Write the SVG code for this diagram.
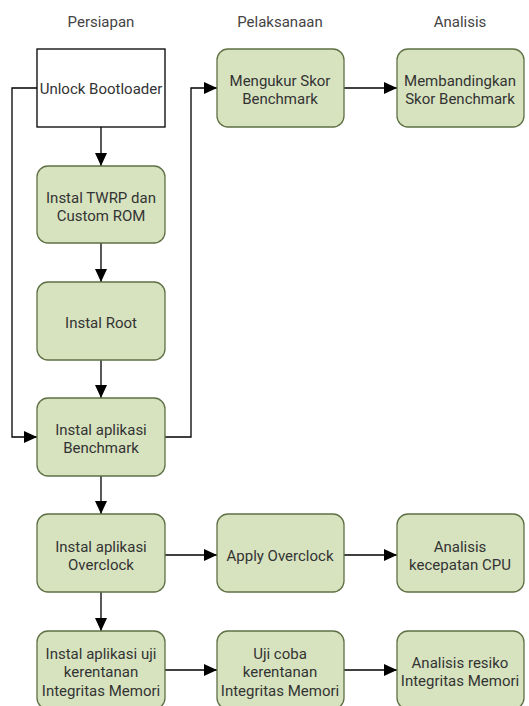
<svg xmlns="http://www.w3.org/2000/svg" width="529" height="706" viewBox="0 0 529 706">
<defs>
<marker id="ah" markerWidth="14" markerHeight="14" refX="13" refY="6" orient="auto" markerUnits="userSpaceOnUse">
<path d="M0,0 L13,6 L0,12 Z" fill="#000"/>
</marker>
<style>
.box{fill:#d7e3bf;stroke:#5f7045;stroke-width:1.3}
.plain{fill:#fff;stroke:#000;stroke-width:1.3}
text{font-family:Roboto,"Liberation Sans",sans-serif;font-size:15px;fill:#333;text-anchor:middle}
.hdr{fill:#444}
.c{fill:none;stroke:#000;stroke-width:1.3}
</style>
</defs>
<rect width="529" height="706" fill="#fff"/>
<g id="headers">
<text class="hdr" x="101" y="27">Persiapan</text>
<text class="hdr" x="280" y="27">Pelaksanaan</text>
<text class="hdr" x="460" y="27">Analisis</text>
</g>
<g id="connectors">
<path class="c" d="M37,88 H12 V437 H37" marker-end="url(#ah)"/>
<path class="c" d="M165,437 H191 V88 H217" marker-end="url(#ah)"/>
<path class="c" d="M344,88 H397" marker-end="url(#ah)"/>
<path class="c" d="M101,127 V166" marker-end="url(#ah)"/>
<path class="c" d="M101,243 V282" marker-end="url(#ah)"/>
<path class="c" d="M101,360 V398" marker-end="url(#ah)"/>
<path class="c" d="M101,476 V514" marker-end="url(#ah)"/>
<path class="c" d="M101,592 V631" marker-end="url(#ah)"/>
<path class="c" d="M165,555 H217" marker-end="url(#ah)"/>
<path class="c" d="M344,555 H397" marker-end="url(#ah)"/>
<path class="c" d="M165,670 H217" marker-end="url(#ah)"/>
<path class="c" d="M344,670 H397" marker-end="url(#ah)"/>
</g>
<g id="n1"><rect class="plain" x="37" y="49" width="128" height="78"/><text x="101" y="93.5">Unlock Bootloader</text></g>
<g id="n2"><rect class="box" x="37" y="166" width="128" height="77" rx="11"/><text x="101" y="202.5">Instal TWRP dan</text><text x="101" y="220.5">Custom ROM</text></g>
<g id="n3"><rect class="box" x="37" y="282" width="128" height="78" rx="11"/><text x="101" y="327.5">Instal Root</text></g>
<g id="n4"><rect class="box" x="37" y="398" width="128" height="78" rx="11"/><text x="101" y="434.5">Instal aplikasi</text><text x="101" y="453">Benchmark</text></g>
<g id="n5"><rect class="box" x="37" y="514" width="128" height="78" rx="11"/><text x="101" y="551.5">Instal aplikasi</text><text x="101" y="569.5">Overclock</text></g>
<g id="n6"><rect class="box" x="37" y="631" width="128" height="78" rx="11"/><text x="101" y="658.5">Instal aplikasi uji</text><text x="101" y="677">kerentanan</text><text x="101" y="695.5">Integritas Memori</text></g>
<g id="n7"><rect class="box" x="217" y="49" width="127" height="78" rx="11"/><text x="280" y="85.5">Mengukur Skor</text><text x="280" y="103.5">Benchmark</text></g>
<g id="n8"><rect class="box" x="397" y="49" width="127" height="78" rx="11"/><text x="460" y="85.5">Membandingkan</text><text x="460" y="103.5">Skor Benchmark</text></g>
<g id="n9"><rect class="box" x="217" y="514" width="127" height="78" rx="11"/><text x="280" y="560.5">Apply Overclock</text></g>
<g id="n10"><rect class="box" x="397" y="514" width="127" height="78" rx="11"/><text x="460" y="551.5">Analisis</text><text x="460" y="569.5">kecepatan CPU</text></g>
<g id="n11"><rect class="box" x="217" y="631" width="127" height="78" rx="11"/><text x="280" y="658.5">Uji coba</text><text x="280" y="677">kerentanan</text><text x="280" y="695.5">Integritas Memori</text></g>
<g id="n12"><rect class="box" x="397" y="631" width="127" height="78" rx="11"/><text x="460" y="667.5">Analisis resiko</text><text x="460" y="685.5">Integritas Memori</text></g>
</svg>
